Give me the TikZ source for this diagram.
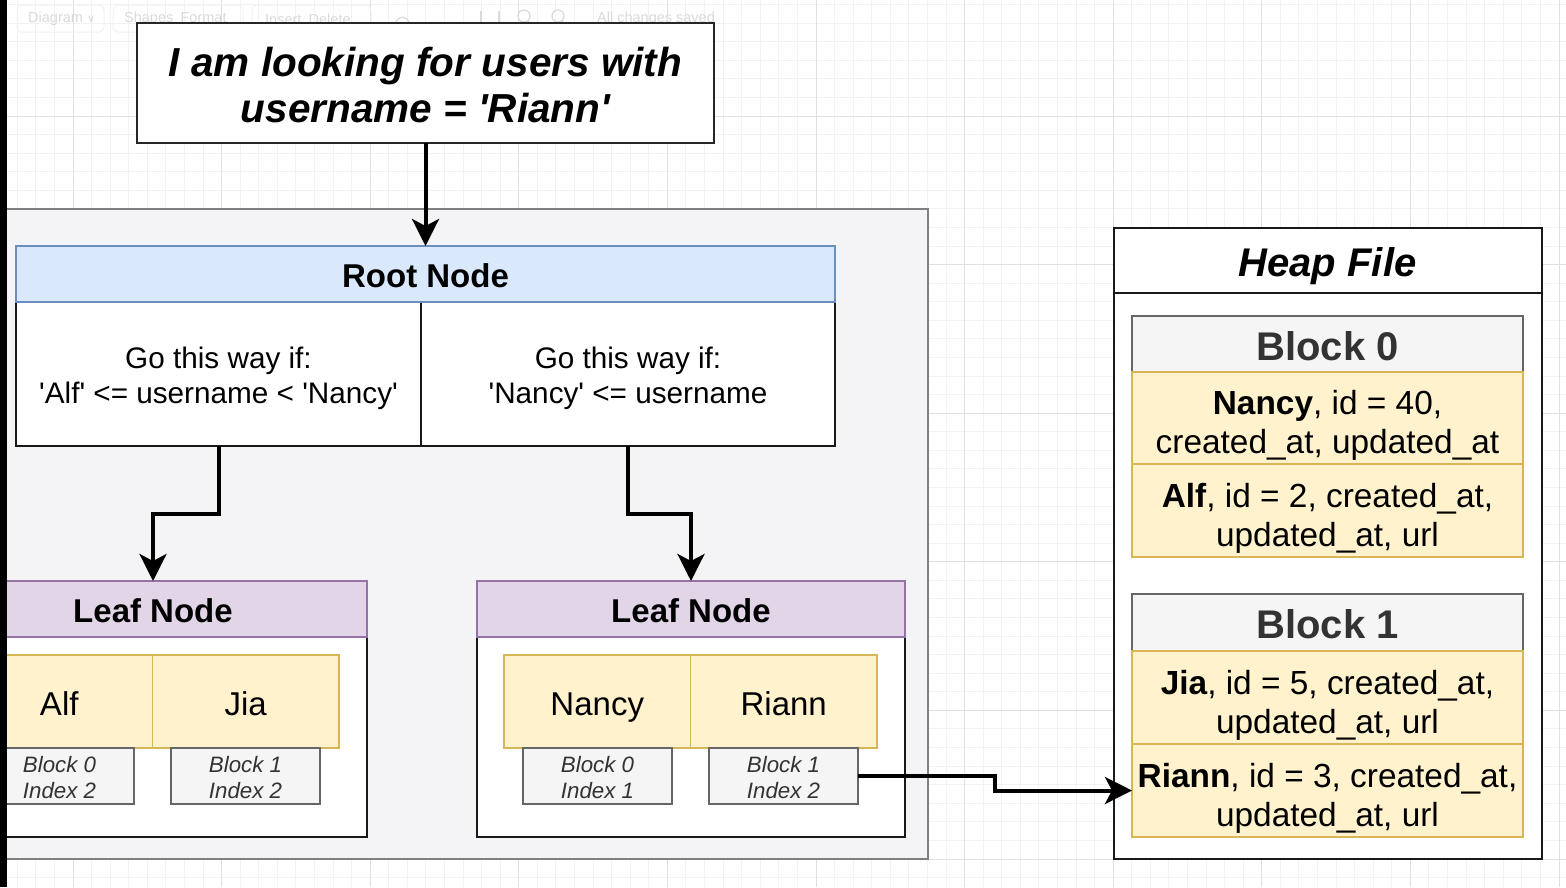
\documentclass[tikz,border=0pt]{standalone}
\usepackage{fontspec}
\setmainfont{Liberation Sans}
\newfontfamily\symfont{DejaVu Sans}
\usetikzlibrary{arrows.meta,calc}

\definecolor{gridminor}{HTML}{F2F2F2}
\definecolor{gridmajor}{HTML}{E0E0E0}
\definecolor{panelfill}{HTML}{F4F4F6}
\definecolor{panelline}{HTML}{808080}
\definecolor{bluefill}{HTML}{DAE8FC}
\definecolor{blueline}{HTML}{6C8EBF}
\definecolor{purplefill}{HTML}{E1D5E7}
\definecolor{purpleline}{HTML}{9673A6}
\definecolor{yellowfill}{HTML}{FFF2CC}
\definecolor{yellowline}{HTML}{D6B656}
\definecolor{grayfill}{HTML}{F5F5F5}
\definecolor{grayline}{HTML}{666666}
\definecolor{darktext}{HTML}{333333}
\definecolor{toolbartext}{HTML}{DADADA}

\newcommand{\sq}{\textquotesingle}
% font size with a fixed line pitch
\newcommand{\fs}[2]{\fontsize{#1}{#2}\selectfont\lineskiplimit=-100pt\relax}
% line strut: keeps every label block centred on the same baseline offset
\newcommand{\boxstrut}{\rule[-0.22em]{0pt}{1.26em}}
% taller first-line strut for the heap records
\newcommand{\recstrut}{\rule[-0.22em]{0pt}{1.41em}}

\tikzset{
  box/.style={draw, inner sep=0pt, outer sep=0pt, align=center, anchor=center,
    execute at begin node={\boxstrut}, execute at end node={\boxstrut}},
  titlebox/.style={box, draw=black!85, line width=2.5pt, fill=white,
    font=\fs{40.5}{46}\bfseries\itshape},
  rootheadbox/.style={box, draw=blueline, line width=1.5pt, fill=bluefill,
    font=\fs{33}{40}\bfseries},
  cellbox/.style={box, draw=black!90, line width=2pt, fill=white,
    font=\fs{29.7}{35.5}},
  leafheadbox/.style={box, draw=purpleline, line width=1.5pt, fill=purplefill,
    font=\fs{33}{40}\bfseries},
  leafbodybox/.style={box, draw=black!90, line width=2pt, fill=white},
  keybox/.style={box, draw=yellowline, line width=1.5pt, fill=yellowfill,
    font=\fs{33}{40}},
  refbox/.style={box, draw=grayline, line width=1.5pt, fill=grayfill,
    text=darktext, font=\fs{22.3}{26}\itshape},
  heapheadbox/.style={box, draw=black!90, line width=2pt, fill=white,
    font=\fs{40}{47}\bfseries\itshape},
  heapbodybox/.style={box, draw=black!90, line width=2pt, fill=white},
  blockheadbox/.style={box, draw=grayline, line width=1.5pt, fill=grayfill,
    text=darktext, font=\fs{40}{47}\bfseries},
  recordbox/.style={box, draw=yellowline, line width=1.5pt, fill=yellowfill,
    font=\fs{33.4}{38.7}},
  conn/.style={draw=black, line width=4pt,
    -{Stealth[length=27pt,width=27pt,inset=7pt]}},
  toolbarlabel/.style={text=toolbartext, font=\fs{14.5}{17}, inner sep=0pt, anchor=west},
  toolbarframe/.style={draw=gridminor, line width=1pt, rounded corners=5pt},
}

% one leaf of the index: header, body, two keys, two block references
\newcommand{\leafgroup}[6]{%
  \node[leafbodybox, minimum width=428, minimum height=200] (#1body) at ({#2+214},737) {};
  \node[leafheadbox, minimum width=428, minimum height=56] (#1head) at ({#2+214},609) {Leaf Node};
  \node[keybox, minimum width=186.5, minimum height=93] (#1k1) at ({#2+120.25},701.5) {#3};
  \node[keybox, minimum width=186.5, minimum height=93] (#1k2) at ({#2+306.75},701.5) {#4};
  \node[refbox, minimum width=149, minimum height=56] (#1r1) at ({#2+120.5},776) {\boxstrut #5};
  \node[refbox, minimum width=149, minimum height=56] (#1r2) at ({#2+306.5},776) {\boxstrut #6};
}

\begin{document}
\begin{tikzpicture}[x=1pt, y=-1pt]
  % canvas
  \fill[white] (0,0) rectangle (1566,887);
  \useasboundingbox (0,0) rectangle (1566,887);

  % editor grid
  \begin{scope}
    \clip (0,0) rectangle (1566,887);
    \foreach \i in {-4,...,81}
      \draw[gridminor, line width=1pt] ({73+18.575*\i},0) -- ({73+18.575*\i},887);
    \foreach \j in {0,...,50}
      \draw[gridminor, line width=1pt] (0,{-32.6+18.575*\j}) -- (1566,{-32.6+18.575*\j});
    \foreach \i in {-1,...,10}
      \draw[gridmajor, line width=1pt] ({73+148.6*\i},0) -- ({73+148.6*\i},887);
    \foreach \j in {0,...,6}
      \draw[gridmajor, line width=1pt] (0,{-32.6+148.6*\j}) -- (1566,{-32.6+148.6*\j});
  \end{scope}

  % toolbar
  \draw[toolbarframe] (17,5) rectangle (104,32);
  \draw[toolbarframe] (113,5) rectangle (243,32);
  \draw[toolbarframe] (252,5) rectangle (371,32);
  \node[toolbarlabel] (tbdiagram) at (28,19) {Diagram {\symfont\fontsize{11}{13}\selectfont ∨}};
  \node[toolbarlabel] (tbshapes) at (124,19) {Shapes\enspace Format};
  \node[toolbarlabel] (tbinsert) at (265,19) {Insert\enspace Delete};
  \node[toolbarlabel] (tbsaved) at (597,19) {All changes saved};
  \draw[toolbartext, line width=1.2pt] (396,22) arc[start angle=200, end angle=340, radius=7];
  \draw[toolbartext, line width=1.2pt] (481,11) -- (481,25) (499,11) -- (499,25);
  \draw[toolbartext, line width=1.2pt] (524,16) circle[radius=6] (528,21) -- (533,26);
  \draw[toolbartext, line width=1.2pt] (558,16) circle[radius=6] (562,21) -- (567,26);

  % index panel
  \node[box, draw=panelline, line width=2pt, fill=panelfill,
        minimum width=1048, minimum height=650] (panel) at (404,534) {};

  % query
  \node[titlebox, minimum width=577, minimum height=120] (query) at (425.5,83)
    {\boxstrut I am looking for users with\\username = \sq Riann\sq};

  % root node
  \node[cellbox, minimum width=405, minimum height=144] (rootleft) at (218.5,374)
    {\boxstrut Go this way if:\\\sq Alf\sq{} <= username < \sq Nancy\sq};
  \node[cellbox, minimum width=414, minimum height=144] (rootright) at (628,374)
    {\boxstrut Go this way if:\\\sq Nancy\sq{} <= username};
  \node[rootheadbox, minimum width=819, minimum height=56] (roothead) at (425.5,274) {Root Node};

  % leaves
  \leafgroup{la}{-61}{Alf}{Jia}{Block 0\\Index 2}{Block 1\\Index 2}
  \leafgroup{lb}{477}{Nancy}{Riann}{Block 0\\Index 1}{Block 1\\Index 2}

  % heap file
  \node[heapbodybox, minimum width=428, minimum height=566.5] (heapbody) at (1327.5,575.75) {};
  \node[heapheadbox, minimum width=428, minimum height=65] (heaphead) at (1327.5,260) {Heap File};

  \node[blockheadbox, minimum width=391, minimum height=56] (b0head) at (1327.5,344) {Block 0};
  \node[recordbox, minimum width=391, minimum height=92] (b0r1) at (1327.5,418)
    {\recstrut\textbf{Nancy}, id = 40,\\created\_at, updated\_at};
  \node[recordbox, minimum width=391, minimum height=93] (b0r2) at (1327.5,510.5)
    {\recstrut\textbf{Alf}, id = 2, created\_at,\\updated\_at, url};

  \node[blockheadbox, minimum width=391, minimum height=57] (b1head) at (1327.5,622.5) {Block 1};
  \node[recordbox, minimum width=391, minimum height=93] (b1r1) at (1327.5,697.5)
    {\recstrut\textbf{Jia}, id = 5, created\_at,\\updated\_at, url};
  \node[recordbox, minimum width=391, minimum height=93] (b1r2) at (1327.5,790.5)
    {\recstrut\textbf{Riann}, id = 3, created\_at,\\updated\_at, url};

  % connectors
  \draw[conn] (query.south) -- (roothead.north);
  \draw[conn] (rootleft.south) -- ++(0,68) -| (lahead.north);
  \draw[conn] (rootright.south) -- ++(0,68) -| (lbhead.north);
  \draw[conn] (lbr2.east) -| ($(lbr2.east)!0.5!(b1r2.west)$) |- (b1r2.west);

  % window edge
  \fill[black] (0,0) rectangle (7,887);
\end{tikzpicture}
\end{document}
